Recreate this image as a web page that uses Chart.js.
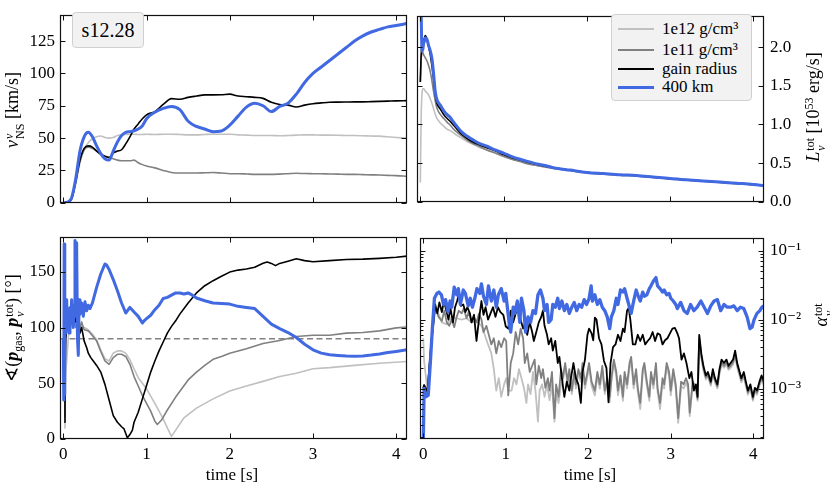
<!DOCTYPE html>
<html><head><meta charset="utf-8">
<script src="https://cdn.jsdelivr.net/npm/chart.js@4.4.1/dist/chart.umd.min.js"></script>
<style>
html,body{margin:0;padding:0;background:#fff;}
body{width:830px;height:485px;position:relative;overflow:hidden;font-family:'Liberation Serif',serif;color:#000;}
.p{position:absolute;}
.p canvas{display:block;}
.lab{position:absolute;white-space:nowrap;font-size:17px;line-height:20px;transform:translate(-50%,-50%) rotate(-90deg);}
.xl{position:absolute;white-space:nowrap;font-size:17px;line-height:20px;transform:translate(-50%,-50%);}
.st{display:inline-block;vertical-align:-0.5em;font-size:12px;line-height:11px;text-align:left;margin-left:1px;}
.st span{display:block;}
sup{font-size:12px;vertical-align:0.5em;line-height:0;}
sub{font-size:12px;vertical-align:-0.3em;line-height:0;}
.box{position:absolute;background:#f2f2f2;border:1px solid #d0d0d0;border-radius:4px;box-sizing:border-box;}
.sw{position:absolute;left:6px;width:36px;}
.lt{position:absolute;left:50px;font-size:17px;line-height:19px;white-space:nowrap;}
</style>
</head>
<body>
<div class="p" id="w1" style="left:0;top:0;width:410px;height:218px"><canvas id="c1"></canvas></div>
<div class="p" id="w2" style="left:414px;top:0;width:416px;height:218px"><canvas id="c2"></canvas></div>
<div class="p" id="w3" style="left:0;top:222px;width:410px;height:263px"><canvas id="c3"></canvas></div>
<div class="p" id="w4" style="left:414px;top:222px;width:416px;height:263px"><canvas id="c4"></canvas></div>

<div class="lab" style="left:14px;top:110px;font-size:18px"><i>v</i><span class="st"><span><i>ν</i></span><span>NS</span></span> [km/s]</div>
<div class="lab" style="left:815px;top:107px;font-size:18px"><i>L</i><span class="st"><span>tot</span><span><i>ν</i></span></span> [10<sup>53</sup> erg/s]</div>
<div class="lab" style="left:14px;top:328px;font-size:18px">∢(<b><i>p</i></b><sub>gas</sub>, <b><i>p</i></b><span class="st"><span>tot</span><span><i>ν</i></span></span>) [°]</div>
<div class="lab" style="left:823px;top:315px;font-size:18px"><i>α</i><span class="st"><span>tot</span><span><i>ν</i></span></span></div>
<div class="xl" style="left:232px;top:475px">time [s]</div>
<div class="xl" style="left:590px;top:475px">time [s]</div>

<div class="box" style="left:72px;top:12px;width:72px;height:36px;font-size:20px;line-height:34px;text-align:center">s12.28</div>
<div class="box" id="legend" style="left:611px;top:14px;width:141px;height:87px"></div>

<script>
// ---------------- data ----------------
const seriesNames = ['1e12 g/cm³', '1e11 g/cm³', 'gain radius', '400 km'];
const timeTicks = [0, 1, 2, 3, 4];
const timeTickLabels = ['0', '1', '2', '3', '4'];
const velTicks = [0, 25, 50, 75, 100, 125];
const lumTicks = [0, 0.5, 1, 1.5, 2];
const lumTickLabels = ['0.0', '0.5', '1.0', '1.5', '2.0'];
const angTicks = [0, 50, 100, 150];
const alphaTicks = [1e-3, 1e-2, 1e-1];
const alphaTickLabels = ['10⁻³', '10⁻²', '10⁻¹'];

// top-left: NS kick velocity [km/s]
const tVel = [0,0.05,0.1,0.15,0.2,0.25,0.3,0.35,0.4,0.45,
  0.5,0.55,0.6,0.65,0.7,0.75,0.8,0.85,0.9,0.95,
  1.0,1.1,1.2,1.3,1.4,1.5,1.6,1.7,1.8,1.9,
  2.0,2.1,2.2,2.3,2.4,2.5,2.6,2.7,2.8,2.9,
  3.0,3.1,3.2,3.3,3.4,3.5,3.6,3.7,3.8,3.9,
  4.0,4.13];
const vel400 = [0,0.5,4,19,40,51,54.5,51,44,38,
  34,33,40,47,52,54.5,55,55.7,57,59.5,
  65,70,73,74.5,72,63,59,57,55,55.5,
  60,67,74,77,75,70.5,74.5,77,84,93,
  100,105,110,115,120,125,129,132,134,136,
  137,138.6];
const velGain = [0,0.5,3,17,33,42,44,43,40,37.5,
  36,35,38.5,40,41,45.5,51,57,61,65,
  68,70.5,76,80.5,80,81.5,82.5,83.4,83.4,83.5,
  84,82.5,82,81.5,80.7,77.7,76,75.5,74,75.5,
  76.6,77.2,77.7,77.8,77.9,78,78,78.2,78.4,78.6,
  78.8,79];
const vel1e11 = [0,0.5,3,16,32,41,43,42,40,38,
  36,35,34,33,32.5,32.5,32.5,33,31,29.5,
  28.4,27,25,23.4,23,23,23,23.2,23.4,23,
  22.5,22.5,22.3,22,22,22,22.2,22.5,22.8,22.6,
  22.5,22.4,22.3,22.2,22,22,21.8,21.6,21.5,21.2,
  21,20.5];
const vel1e12 = [0,0.5,3,15,31,41,46.5,49.5,51,51.6,
  50.5,50,50.5,52,52.5,52.8,53,53,52.8,52.8,
  53,52.8,53,53,52.8,52.5,52.5,52.8,53,53,
  53,52.5,52.3,52,52,52,51.8,52,52.3,52.5,
  52.5,52.3,52.3,52.2,52,52,51.8,51.6,51.5,51,
  50.5,50];

// top-right: total neutrino luminosity [1e53 erg/s]
const tLum = [0,0.01,0.02,0.03,0.04,0.05,0.06,0.08,0.1,0.12,
  0.14,0.16,0.18,0.2,0.24,0.28,0.32,0.36,0.4,0.44,
  0.5,0.56,0.62,0.7,0.8,0.9,1.0,1.1,1.2,1.3,
  1.4,1.5,1.6,1.8,2.0,2.2,2.4,2.6,2.8,3.0,
  3.2,3.4,3.6,3.8,4.0,4.13];
const lum400 = [2.9,2.45,1.95,1.97,2.05,2.08,2.12,2.1,2.02,1.95,
  1.85,1.65,1.42,1.32,1.25,1.18,1.13,1.09,1.03,0.975,
  0.9,0.85,0.81,0.76,0.72,0.67,0.63,0.585,0.55,0.52,
  0.49,0.47,0.44,0.41,0.38,0.365,0.35,0.34,0.32,0.30,
  0.285,0.27,0.255,0.24,0.225,0.21];
const lumGain = [1.55,1.9,2.02,2.0,2.08,2.12,2.15,2.1,2.0,1.9,
  1.75,1.58,1.38,1.27,1.2,1.13,1.08,1.04,0.99,0.94,
  0.87,0.82,0.78,0.74,0.7,0.66,0.61,0.57,0.54,0.51,
  0.485,0.46,0.44,0.41,0.38,0.365,0.35,0.34,0.32,0.30,
  0.285,0.27,0.255,0.24,0.225,0.21];
const lum1e11 = [1.55,1.85,1.92,1.93,1.9,1.88,1.86,1.82,1.76,1.68,
  1.56,1.42,1.3,1.21,1.13,1.08,1.03,0.99,0.94,0.9,
  0.85,0.8,0.76,0.72,0.67,0.63,0.59,0.55,0.52,0.49,
  0.47,0.45,0.43,0.405,0.375,0.36,0.345,0.335,0.315,0.295,
  0.28,0.265,0.25,0.235,0.22,0.205];
const lum1e12 = [0.25,1.1,1.4,1.46,1.46,1.45,1.43,1.41,1.38,1.33,
  1.27,1.2,1.13,1.08,1.02,0.98,0.94,0.92,0.89,0.86,
  0.82,0.78,0.75,0.71,0.67,0.63,0.585,0.55,0.52,0.49,
  0.47,0.45,0.43,0.405,0.375,0.36,0.345,0.335,0.315,0.295,
  0.28,0.265,0.25,0.235,0.22,0.205];

// bottom-left: angle between gas and neutrino momentum [deg]
const angT400 = [0,0.005,0.01,0.015,0.02,0.03,0.04,0.05,0.06,0.07,
  0.08,0.09,0.1,0.11,0.12,0.13,0.14,0.15,0.16,0.17,
  0.18,0.19,0.2,0.22,0.24,0.26,0.28,0.3,0.32,0.35,
  0.4,0.45,0.5,0.52,0.55,0.6,0.65,0.7,0.75,0.8,
  0.85,0.9,0.95,0.97,1.0,1.05,1.1,1.15,1.2,1.25,
  1.3,1.35,1.4,1.45,1.5,1.55,1.6,1.7,1.8,1.9,
  2.0,2.1,2.2,2.3,2.4,2.5,2.6,2.7,2.8,2.9,
  3.0,3.1,3.2,3.3,3.4,3.5,3.6,3.7,3.8,3.9,
  4.0,4.13];
const ang400 = [90,35,175,40,120,95,125,100,112,95,
  118,105,125,108,100,120,178,110,176,90,
  75,125,112,122,110,123,115,120,117,122,
  136,148,157,156,152,143,133,122,113,118,
  114,110,104,106,108,111,116,120,126,127,
  129,131,131,130,131,129,126.5,124,122,121.5,
  121,119,118,117,110,103,99,95.5,91,85,
  80,77,75.5,75,74.5,74.3,74.5,75.3,76.3,77.5,
  78.5,80];
const angTGain = [0.01,0.02,0.03,0.05,0.08,0.1,0.12,0.15,0.18,0.2,
  0.22,0.25,0.28,0.3,0.33,0.36,0.4,0.45,0.5,0.55,
  0.6,0.65,0.7,0.73,0.75,0.77,0.8,0.83,0.85,0.9,
  0.95,1.0,1.05,1.1,1.15,1.2,1.25,1.3,1.35,1.4,
  1.5,1.6,1.7,1.8,1.9,2.0,2.1,2.2,2.3,2.4,
  2.45,2.5,2.55,2.6,2.7,2.8,2.9,3.0,3.2,3.4,
  3.6,3.8,4.0,4.13];
const angGain = [15,60,90,105,115,110,118,105,110,95,
  100,88,82,77,73,70,66,60,49,35,
  21,15,11,9,5,1,4,8,15,24,
  36,48,60,70,79,87,95,101,106,112,
  122,131,137.5,142,146,149.7,151.5,152.5,154,157.6,
  158.8,157.5,155.5,157.5,159.5,161.6,160,159,160,161,
  161.3,162,163,164];
const angT1e11 = [0.01,0.02,0.03,0.05,0.08,0.1,0.12,0.15,0.18,0.2,
  0.22,0.25,0.3,0.35,0.4,0.45,0.5,0.55,0.6,0.65,
  0.7,0.75,0.8,0.85,0.9,0.95,1.0,1.05,1.1,1.13,
  1.18,1.25,1.35,1.5,1.6,1.7,1.8,1.9,2.0,2.2,
  2.4,2.6,2.8,3.0,3.2,3.4,3.6,3.8,4.0,4.13];
const ang1e11 = [20,75,110,100,115,105,112,100,108,100,
  105,98,97,92.6,88,78.5,70,67,73,76,
  76,74,67,56,47.5,39,32,25,16,13,
  17,26,37.6,53,60,66,71.5,74,77,81,
  85.6,88.4,92,93,93,95,95.5,97,99.7,100.5];
const angT1e12 = [0.01,0.02,0.03,0.05,0.07,0.1,0.12,0.15,0.2,0.25,
  0.3,0.35,0.4,0.45,0.5,0.55,0.6,0.65,0.7,0.75,
  0.8,0.85,0.9,0.95,1.0,1.1,1.2,1.25,1.3,1.35,
  1.45,1.6,1.8,2.0,2.2,2.4,2.6,2.8,3.0,3.2,
  3.5,3.8,4.13];
const ang1e12 = [10,40,60,80,100,120,110,105,102,100,
  98,94,89,80,72,70,77,79,79,77,
  71,63,55,50,45,32,18,10,2.3,8,
  19,27.7,36,43,47.5,51.7,56,59,63,64,
  66,68,69.5];
const dashT = [-0.04, 4.13];
const dashAng = [90, 90];

// bottom-right: anisotropy parameter, pairs of [time, log10(alpha)]
const alpha400 = [[0,-3.8],[0.01,-3.0],[0.03,-3.12],[0.06,-3.1],[0.085,-2.63],[0.11,-2.13],[0.135,-1.69],[0.165,-1.62],[0.19,-1.6],[0.22,-1.64],
  [0.245,-1.78],[0.27,-1.71],[0.3,-1.89],[0.325,-1.73],[0.345,-1.82],[0.375,-1.53],[0.405,-1.64],[0.425,-1.55],[0.45,-1.78],[0.485,-1.57],
  [0.51,-1.62],[0.545,-1.8],[0.57,-1.69],[0.595,-1.82],[0.625,-1.69],[0.65,-1.55],[0.685,-1.62],[0.705,-1.48],[0.73,-1.66],[0.765,-1.78],
  [0.79,-1.51],[0.825,-1.73],[0.855,-1.57],[0.885,-1.82],[0.91,-1.64],[0.945,-1.55],[0.98,-1.73],[1.0,-1.62],[1.04,-2.04],[1.06,-2.18],
  [1.09,-1.82],[1.11,-1.91],[1.14,-1.73],[1.17,-2.04],[1.19,-1.69],[1.22,-1.87],[1.24,-2.18],[1.27,-1.96],[1.3,-2.04],[1.33,-1.87],
  [1.36,-1.91],[1.39,-1.64],[1.42,-1.57],[1.45,-1.69],[1.47,-1.87],[1.5,-1.78],[1.52,-2.04],[1.55,-2.0],[1.57,-1.78],[1.6,-1.82],
  [1.63,-1.69],[1.65,-1.84],[1.68,-1.73],[1.71,-1.87],[1.74,-1.78],[1.77,-1.91],[1.8,-1.82],[1.83,-1.75],[1.86,-1.87],[1.89,-1.78],
  [1.92,-1.82],[1.95,-1.71],[1.98,-1.78],[2.01,-1.69],[2.035,-1.51],[2.05,-1.73],[2.08,-1.64],[2.11,-1.78],[2.14,-1.71],[2.17,-1.82],
  [2.2,-1.87],[2.23,-1.96],[2.26,-2.13],[2.28,-1.96],[2.31,-1.87],[2.34,-1.69],[2.36,-1.78],[2.39,-1.57],[2.42,-1.6],[2.44,-1.55],
  [2.47,-1.69],[2.5,-1.82],[2.52,-1.91],[2.55,-1.73],[2.58,-1.57],[2.6,-1.64],[2.63,-1.73],[2.66,-1.6],[2.68,-1.66],[2.71,-1.64],
  [2.74,-1.55],[2.76,-1.51],[2.79,-1.44],[2.82,-1.39],[2.84,-1.51],[2.87,-1.55],[2.9,-1.6],[2.92,-1.57],[2.95,-1.64],[2.98,-1.62],
  [3.0,-1.69],[3.03,-1.73],[3.06,-1.78],[3.08,-1.84],[3.12,-1.75],[3.16,-1.87],[3.2,-1.91],[3.24,-1.78],[3.28,-1.87],[3.32,-1.82],
  [3.365,-1.73],[3.405,-1.82],[3.445,-1.91],[3.485,-1.8],[3.525,-1.73],[3.565,-1.71],[3.605,-1.87],[3.645,-1.78],[3.685,-1.82],[3.725,-1.82],
  [3.765,-1.8],[3.805,-1.87],[3.845,-1.82],[3.885,-1.84],[3.925,-1.96],[3.96,-2.13],[3.985,-2.11],[4.01,-2.0],[4.045,-1.91],[4.08,-1.87],
  [4.105,-1.82],[4.13,-1.8]];
const alphaGain = [[0,-3.0],[0.01,-2.95],[0.05,-3.05],[0.1,-2.3],[0.145,-1.78],[0.17,-1.91],[0.195,-1.75],[0.225,-1.89],[0.25,-1.73],[0.28,-1.87],
  [0.305,-2.0],[0.33,-1.84],[0.36,-2.04],[0.385,-1.82],[0.41,-1.73],[0.435,-1.62],[0.455,-1.8],[0.485,-1.78],[0.51,-1.89],[0.535,-1.82],
  [0.565,-1.91],[0.585,-2.04],[0.615,-1.93],[0.645,-2.31],[0.675,-2.0],[0.705,-1.73],[0.73,-1.93],[0.755,-1.82],[0.785,-2.0],[0.815,-1.91],
  [0.845,-1.82],[0.875,-1.96],[0.905,-1.82],[0.935,-1.89],[0.97,-1.93],[1.0,-2.1],[1.03,-2.13],[1.06,-1.87],[1.09,-2.04],[1.12,-1.91],
  [1.15,-1.78],[1.18,-2.0],[1.21,-2.13],[1.23,-2.07],[1.26,-2.22],[1.29,-2.04],[1.32,-2.18],[1.34,-2.31],[1.37,-2.18],[1.4,-2.04],
  [1.43,-1.96],[1.45,-1.87],[1.47,-2.09],[1.5,-2.22],[1.52,-2.36],[1.55,-2.27],[1.57,-2.45],[1.6,-2.31],[1.63,-2.63],[1.65,-2.54],
  [1.68,-2.85],[1.71,-3.12],[1.74,-2.9],[1.77,-3.03],[1.79,-2.85],[1.82,-2.63],[1.85,-2.85],[1.88,-2.94],[1.91,-3.21],[1.93,-2.76],
  [1.96,-2.58],[1.99,-2.22],[2.01,-2.13],[2.04,-2.2],[2.06,-2.3],[2.08,-1.97],[2.1,-2.0],[2.13,-2.27],[2.16,-2.36],[2.19,-2.6],
  [2.22,-2.7],[2.245,-3.2],[2.27,-2.63],[2.3,-2.4],[2.33,-2.36],[2.36,-2.22],[2.39,-2.31],[2.42,-2.13],[2.44,-2.18],[2.47,-1.87],
  [2.49,-1.83],[2.51,-2.0],[2.54,-2.36],[2.57,-2.36],[2.6,-2.22],[2.63,-2.31],[2.66,-2.22],[2.69,-2.36],[2.72,-2.31],[2.75,-2.27],
  [2.78,-2.18],[2.81,-2.31],[2.84,-2.2],[2.87,-2.22],[2.9,-2.36],[2.93,-2.3],[2.96,-2.27],[2.99,-2.2],[3.02,-2.13],[3.05,-2.12],
  [3.08,-2.2],[3.1,-2.27],[3.13,-2.58],[3.16,-2.49],[3.19,-2.63],[3.225,-2.85],[3.25,-2.76],[3.28,-3.03],[3.305,-2.94],[3.325,-3.12],
  [3.345,-2.22],[3.37,-2.49],[3.395,-2.67],[3.425,-2.81],[3.45,-2.76],[3.485,-2.9],[3.51,-2.72],[3.535,-2.85],[3.565,-2.94],[3.59,-2.72],
  [3.615,-2.58],[3.645,-2.63],[3.675,-2.58],[3.7,-2.67],[3.725,-2.63],[3.755,-2.58],[3.78,-2.45],[3.805,-2.63],[3.835,-2.76],[3.855,-2.85],
  [3.885,-2.76],[3.91,-2.9],[3.935,-3.03],[3.965,-2.94],[3.995,-3.12],[4.02,-2.99],[4.045,-3.03],[4.075,-2.9],[4.1,-2.81],[4.13,-2.9]];
const alpha1e11 = [[0,-3.0],[0.01,-2.95],[0.05,-3.05],[0.1,-2.3],[0.145,-1.82],[0.185,-1.96],[0.225,-2.02],[0.255,-1.87],[0.285,-2.04],[0.315,-2.09],
  [0.345,-2.0],[0.375,-2.11],[0.405,-1.96],[0.43,-1.87],[0.465,-1.91],[0.49,-1.84],[0.525,-1.98],[0.55,-1.89],[0.585,-2.04],[0.615,-1.96],
  [0.645,-2.04],[0.675,-1.91],[0.705,-2.0],[0.73,-2.18],[0.765,-2.09],[0.79,-2.2],[0.825,-2.36],[0.855,-2.27],[0.885,-2.49],[0.915,-2.31],
  [0.945,-2.4],[0.98,-2.27],[1.005,-2.31],[1.03,-3.1],[1.06,-2.63],[1.09,-2.49],[1.12,-2.18],[1.15,-2.36],[1.18,-2.13],[1.21,-2.27],
  [1.23,-2.63],[1.26,-2.49],[1.29,-2.76],[1.32,-2.67],[1.35,-2.58],[1.37,-2.94],[1.4,-2.67],[1.43,-2.85],[1.45,-2.72],[1.48,-2.99],
  [1.51,-2.85],[1.53,-3.03],[1.56,-2.76],[1.59,-3.43],[1.61,-2.94],[1.64,-3.12],[1.67,-2.72],[1.69,-2.85],[1.72,-2.63],[1.75,-2.9],
  [1.77,-2.72],[1.8,-3.03],[1.83,-2.76],[1.85,-2.94],[1.88,-2.72],[1.91,-2.85],[1.93,-2.63],[1.96,-2.94],[1.99,-2.76],[2.01,-2.63],
  [2.04,-2.9],[2.08,-3.03],[2.11,-2.76],[2.14,-2.94],[2.17,-2.67],[2.2,-3.03],[2.23,-2.85],[2.26,-3.12],[2.28,-2.85],[2.31,-2.58],
  [2.34,-2.76],[2.36,-3.03],[2.39,-2.81],[2.42,-3.12],[2.44,-2.76],[2.47,-2.94],[2.5,-2.63],[2.52,-2.54],[2.55,-2.94],[2.58,-2.72],
  [2.6,-2.99],[2.63,-3.21],[2.66,-2.72],[2.68,-2.63],[2.71,-2.9],[2.74,-3.12],[2.76,-2.76],[2.79,-2.94],[2.82,-2.63],[2.84,-2.99],
  [2.87,-3.21],[2.9,-2.85],[2.92,-2.94],[2.95,-2.63],[2.98,-2.76],[3.0,-3.03],[3.03,-2.72],[3.06,-2.94],[3.09,-3.43],[3.125,-2.9],
  [3.155,-2.94],[3.185,-2.85],[3.21,-2.94],[3.23,-3.35],[3.265,-2.9],[3.305,-2.98],[3.325,-3.15],[3.345,-2.26],[3.37,-2.53],[3.395,-2.7],
  [3.425,-2.84],[3.45,-2.8],[3.485,-2.93],[3.51,-2.76],[3.535,-2.88],[3.565,-2.97],[3.59,-2.76],[3.615,-2.62],[3.645,-2.67],[3.675,-2.62],
  [3.7,-2.7],[3.725,-2.67],[3.755,-2.62],[3.78,-2.5],[3.805,-2.66],[3.835,-2.79],[3.855,-2.88],[3.885,-2.8],[3.91,-2.93],[3.935,-3.06],
  [3.965,-2.97],[3.995,-3.15],[4.02,-3.02],[4.045,-3.06],[4.075,-2.93],[4.1,-2.85],[4.13,-2.93]];
const alpha1e12 = [[0,-2.27],[0.01,-2.6],[0.05,-3.02],[0.1,-2.3],[0.145,-1.84],[0.185,-1.92],[0.225,-2.04],[0.285,-2.07],[0.345,-1.96],[0.405,-1.98],
  [0.465,-2.0],[0.525,-1.98],[0.585,-2.04],[0.645,-2.02],[0.705,-2.09],[0.745,-2.22],[0.785,-2.36],[0.825,-2.49],[0.855,-2.72],[0.885,-3.03],
  [0.915,-2.85],[0.945,-3.12],[0.98,-2.94],[1.005,-2.85],[1.03,-3.03],[1.07,-3.03],[1.1,-2.85],[1.13,-2.94],[1.16,-2.72],[1.19,-2.85],
  [1.22,-2.99],[1.25,-3.21],[1.27,-2.94],[1.3,-3.08],[1.33,-2.76],[1.36,-3.03],[1.39,-3.48],[1.41,-3.03],[1.44,-2.94],[1.47,-3.12],
  [1.5,-2.94],[1.53,-3.17],[1.56,-2.94],[1.59,-3.48],[1.61,-3.08],[1.64,-3.21],[1.67,-2.94],[1.69,-2.9],[1.72,-2.68],[1.75,-2.95],
  [1.77,-2.78],[1.8,-3.08],[1.83,-2.82],[1.85,-3.0],[1.88,-2.78],[1.91,-2.9],[1.93,-2.7],[1.96,-3.0],[1.99,-2.82],[2.01,-2.7],
  [2.04,-2.96],[2.08,-3.1],[2.11,-2.82],[2.14,-3.0],[2.17,-2.74],[2.2,-3.08],[2.23,-2.9],[2.26,-3.2],[2.28,-2.9],[2.31,-2.64],
  [2.34,-2.82],[2.36,-3.1],[2.39,-2.86],[2.42,-3.18],[2.44,-2.82],[2.47,-3.0],[2.5,-2.7],[2.52,-2.6],[2.55,-3.0],[2.58,-2.78],
  [2.6,-3.05],[2.63,-3.3],[2.66,-2.78],[2.68,-2.7],[2.71,-2.96],[2.74,-3.18],[2.76,-2.82],[2.79,-3.0],[2.82,-2.7],[2.84,-3.05],
  [2.87,-3.3],[2.9,-2.92],[2.92,-3.0],[2.95,-2.7],[2.98,-2.82],[3.0,-3.1],[3.03,-2.78],[3.06,-3.0],[3.09,-3.5],[3.125,-2.96],
  [3.155,-3.0],[3.185,-2.92],[3.21,-3.0],[3.23,-3.4],[3.265,-2.96],[3.305,-3.03],[3.325,-3.18],[3.345,-2.3],[3.37,-2.56],[3.395,-2.73],
  [3.425,-2.87],[3.45,-2.83],[3.485,-2.96],[3.51,-2.79],[3.535,-2.91],[3.565,-3.0],[3.59,-2.79],[3.615,-2.65],[3.645,-2.7],[3.675,-2.65],
  [3.7,-2.73],[3.725,-2.7],[3.755,-2.65],[3.78,-2.53],[3.805,-2.69],[3.835,-2.82],[3.855,-2.91],[3.885,-2.83],[3.91,-2.96],[3.935,-3.09],
  [3.965,-3.0],[3.995,-3.18],[4.02,-3.05],[4.045,-3.09],[4.075,-2.96],[4.1,-2.88],[4.13,-2.96]];

// ---------------- styling ----------------
const COL12 = '#c0c0c0', COL11 = '#808080', COLG = '#000000', COL400 = '#4169e1';
const W12 = 1.6, W11 = 1.6, WG = 1.6, W400 = 3;
const seriesColors = [COL12, COL11, COLG, COL400];
const seriesWidths = [W12, W11, WG, W400];
const X_MIN = -0.04, X_MAX = 4.13;

Chart.defaults.font.family = "'Liberation Serif', 'DejaVu Serif', serif";
Chart.defaults.font.size = 17;
Chart.defaults.color = '#000';

function pts(ts, vs) { return ts.map((t, i) => ({ x: t, y: vs[i] })); }
function logPts(pairs) { return pairs.map(p => ({ x: p[0], y: Math.pow(10, p[1]) })); }

function ds(data, color, width, extra) {
  return Object.assign({ data, borderColor: color, borderWidth: width, pointRadius: 0, fill: false,
    borderJoinStyle: 'round', borderCapStyle: 'butt' }, extra || {});
}

const framePlugin = {
  id: 'frame',
  afterDraw(chart, args, opts) {
    const { ctx, chartArea: a, scales } = chart;
    const sx = scales.x, sy = scales.y;
    const L = Math.round(a.left) + 0.5, R = Math.round(a.right) - 0.5;
    const T = Math.round(a.top) + 0.5, B = Math.round(a.bottom) - 0.5;
    ctx.save();
    ctx.strokeStyle = '#111';
    ctx.lineWidth = 1;
    ctx.beginPath();
    sx.ticks.forEach(t => {
      const p = Math.round(sx.getPixelForValue(t.value)) + 0.5;
      ctx.moveTo(p, B); ctx.lineTo(p, B - 5);
      ctx.moveTo(p, T); ctx.lineTo(p, T + 5);
    });
    sy.ticks.forEach(t => {
      const p = Math.round(sy.getPixelForValue(t.value)) + 0.5;
      ctx.moveTo(L, p); ctx.lineTo(L + 5, p);
      ctx.moveTo(R, p); ctx.lineTo(R - 5, p);
    });
    (opts.minor || []).forEach(v => {
      if (v <= sy.min || v >= sy.max) return;
      const p = Math.round(sy.getPixelForValue(v)) + 0.5;
      ctx.moveTo(L, p); ctx.lineTo(L + 3, p);
      ctx.moveTo(R, p); ctx.lineTo(R - 3, p);
    });
    ctx.stroke();
    ctx.lineWidth = 1.2;
    ctx.strokeRect(L, T, R - L, B - T);
    ctx.restore();
  }
};

function xScale(showLabels, h) {
  return {
    type: 'linear', min: X_MIN, max: X_MAX,
    afterBuildTicks: s => { s.ticks = timeTicks.map(v => ({ value: v })); },
    afterFit: s => { s.height = h; },
    grid: { display: false, drawTicks: false }, border: { display: false },
    ticks: { display: showLabels, padding: 5, maxRotation: 0, autoSkip: false,
      callback: (v, i) => timeTickLabels[i] }
  };
}
function yScale(opts) {
  return Object.assign({
    grid: { display: false, drawTicks: false }, border: { display: false },
  }, opts);
}

function makeChart(id, datasets, scales, padding, minor) {
  return new Chart(document.getElementById(id), {
    type: 'line',
    data: { datasets },
    options: {
      animation: false, responsive: true, maintainAspectRatio: false,
      layout: { padding },
      events: [],
      plugins: { legend: { display: false }, tooltip: { enabled: false }, frame: { minor: minor || [] } },
      scales
    },
    plugins: [framePlugin]
  });
}

// Top-left
makeChart('c1', [
  ds(pts(tVel, vel400), COL400, W400, { cubicInterpolationMode: 'monotone' }),
  ds(pts(tVel, velGain), COLG, WG, { cubicInterpolationMode: 'monotone' }),
  ds(pts(tVel, vel1e11), COL11, W11, { cubicInterpolationMode: 'monotone' }),
  ds(pts(tVel, vel1e12), COL12, W12, { cubicInterpolationMode: 'monotone' })
], {
  x: xScale(false, 3),
  y: yScale({ type: 'linear', position: 'left', min: 0, max: 145,
    afterBuildTicks: s => { s.ticks = velTicks.map(v => ({ value: v })); },
    afterFit: s => { s.width = 60; },
    ticks: { padding: 5, callback: v => String(v) } })
}, { left: 0, top: 2, right: 3, bottom: 0 });

// Top-right
makeChart('c2', [
  ds(pts(tLum, lum400), COL400, W400, { cubicInterpolationMode: 'monotone' }),
  ds(pts(tLum, lumGain), COLG, WG, { cubicInterpolationMode: 'monotone' }),
  ds(pts(tLum, lum1e11), COL11, W11, { cubicInterpolationMode: 'monotone' }),
  ds(pts(tLum, lum1e12), COL12, W12, { cubicInterpolationMode: 'monotone' })
], {
  x: xScale(false, 3),
  y: yScale({ type: 'linear', position: 'right', min: 0, max: 2.4,
    afterBuildTicks: s => { s.ticks = lumTicks.map(v => ({ value: v })); },
    afterFit: s => { s.width = 66; },
    ticks: { padding: 6, callback: (v, i) => lumTickLabels[i] } })
}, { left: 3, top: 2, right: 0, bottom: 0 });

// Bottom-left
makeChart('c3', [
  ds(pts(angT400, ang400), COL400, W400),
  ds(pts(angTGain, angGain), COLG, WG),
  ds(pts(angT1e11, ang1e11), COL11, W11),
  ds(pts(angT1e12, ang1e12), COL12, W12),
  ds(pts(dashT, dashAng), COL11, 1.5, { borderDash: [6, 3.5] })
], {
  x: xScale(true, 46),
  y: yScale({ type: 'linear', position: 'left', min: 0, max: 181,
    afterBuildTicks: s => { s.ticks = angTicks.map(v => ({ value: v })); },
    afterFit: s => { s.width = 60; },
    ticks: { padding: 5, callback: v => String(v) } })
}, { left: 0, top: 4, right: 3, bottom: 0 });

// Bottom-right (log)
const minorAlpha = [];
[1e-4, 1e-3, 1e-2, 1e-1].forEach(d => { for (let k = 2; k <= 9; k++) minorAlpha.push(d * k); });
makeChart('c4', [
  ds(logPts(alpha400), COL400, 3.3),
  ds(logPts(alphaGain), COLG, 1.8),
  ds(logPts(alpha1e11), COL11, 1.8),
  ds(logPts(alpha1e12), COL12, 1.8)
], {
  x: xScale(true, 46),
  y: yScale({ type: 'logarithmic', position: 'right', min: 1.85e-4, max: 0.152,
    afterBuildTicks: s => { s.ticks = alphaTicks.map(v => ({ value: v })); },
    afterFit: s => { s.width = 66; },
    ticks: { padding: 6, autoSkip: false, callback: (v, i) => alphaTickLabels[i] } })
}, { left: 3, top: 4, right: 0, bottom: 0 }, minorAlpha);

// Legend (HTML) inside top-right panel
const leg = document.getElementById('legend');
const rowY = [14, 35, 54, 72];
seriesNames.forEach((name, i) => {
  const sw = document.createElement('div');
  sw.className = 'sw';
  sw.style.top = (rowY[i] - seriesWidths[i] / 2) + 'px';
  sw.style.height = seriesWidths[i] + 'px';
  sw.style.background = seriesColors[i];
  leg.appendChild(sw);
  const tx = document.createElement('div');
  tx.className = 'lt';
  tx.style.top = (rowY[i] - 10) + 'px';
  tx.textContent = name;
  leg.appendChild(tx);
});
</script>
</body></html>
